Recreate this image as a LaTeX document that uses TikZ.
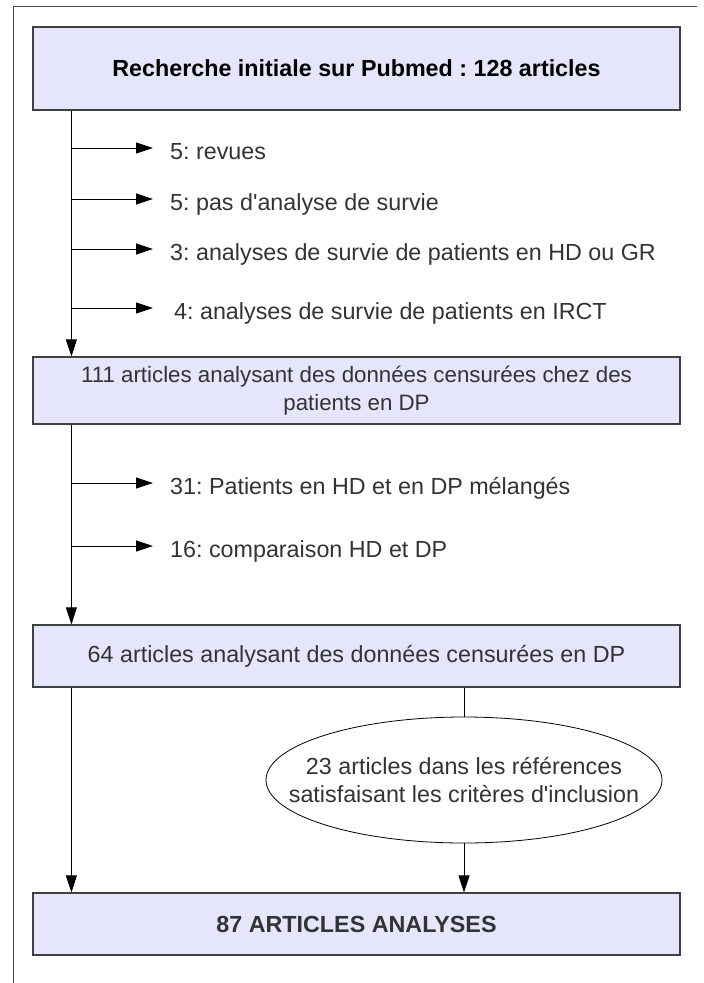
\documentclass[tikz,border=0pt]{standalone}
\usepackage{fontspec}
\newfontfamily\arialfont{Liberation Sans}
\usetikzlibrary{arrows.meta,shapes.geometric}
\definecolor{boxfill}{RGB}{229,229,251}
\definecolor{txtgray}{RGB}{51,51,51}

\begin{document}
\begin{tikzpicture}[x=1pt,y=-1pt,
			txt/.style={text=txtgray,font=\arialfont\fontsize{23.3}{28}\selectfont\frenchspacing},
			box/.style={txt,draw=black!75,line width=1.2pt,fill=boxfill,minimum width=647pt,inner sep=0pt,align=center},
			lbl/.style={txt,anchor=west,inner sep=0pt,text height=22pt,text depth=0pt},
			flow/.style={-{Triangle[length=17pt,width=11pt]},line width=0.8pt},
			side/.style={flow,shorten >=17pt}]
			\useasboundingbox (0,0) rectangle (704,983);
			\draw[black!70,line width=1pt] (13,983) -- (13,6) -- (697,6);
			% boites
			\node[box,minimum height=83pt,text=black] (init) at (356.5,68.5) {\bfseries Recherche initiale sur Pubmed : 128 articles};
			\node[box,minimum height=67pt,font=\arialfont\fontsize{22.3}{28}\selectfont] (dp) at (356.5,390.5) {111 articles analysant des données censurées chez des\\patients en DP};
			\node[box,minimum height=62pt] (cens) at (356.5,656) {64 articles analysant des données censurées en DP};
			\node[box,minimum height=62pt] (final) at (356.5,924) {\bfseries 87 ARTICLES ANALYSES};
			\node[draw=black,line width=0.8pt,ellipse,fill=white,minimum width=396pt,minimum height=126pt,inner sep=0pt] (refs) at (464,780) {};
			\node[txt,inner sep=0pt,align=center] (refstxt) at (refs.center) {23 articles dans les références\\satisfaisant les critères d'inclusion};
			% exclusions
			\coordinate (trunk) at (72,0);
			\node[lbl] (revues) at (170,148) {5: revues};
			\node[lbl] (nosurv) at (170,199) {5: pas d'analyse de survie};
			\node[lbl] (hdgr) at (170,249) {3: analyses de survie de patients en HD ou GR};
			\node[lbl] (irct) at (174,308) {4: analyses de survie de patients en IRCT};
			\node[lbl] (mixed) at (170,483) {31: Patients en HD et en DP mélangés};
			\node[lbl] (comp) at (170,546) {16: comparaison HD et DP};
			% fleches
			\draw[flow] ([xshift=39pt]init.south west) -- ([xshift=39pt]dp.north west);
			\draw[flow] ([xshift=39pt]dp.south west) -- ([xshift=39pt]cens.north west);
			\draw[flow] ([xshift=39pt]cens.south west) -- ([xshift=39pt]final.north west);
			\draw[side] (trunk |- revues.west) -- (revues.west);
			\draw[side] (trunk |- nosurv.west) -- (nosurv.west);
			\draw[side] (trunk |- hdgr.west) -- (hdgr.west);
			\draw[side,shorten >=21pt] (trunk |- irct.west) -- (irct.west);
			\draw[side] (trunk |- mixed.west) -- (mixed.west);
			\draw[side] (trunk |- comp.west) -- (comp.west);
			\draw[line width=0.8pt] (refs.north |- cens.south) -- (refs.north);
			\draw[flow] (refs.south) -- (refs.south |- final.north);
		\end{tikzpicture}
\end{document}
